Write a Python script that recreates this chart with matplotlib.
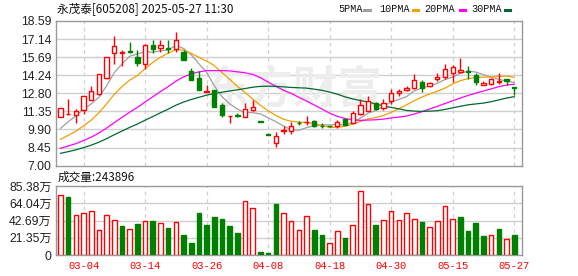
import matplotlib
matplotlib.use('Agg')
import matplotlib.pyplot as plt
from matplotlib.patches import Rectangle
import numpy as np

# ---------------- data ----------------
opens = [10.94, 11.15, 11.10, 11.48, 12.28, 12.72, 14.03, 16.03, 16.06, 16.20,
         15.70, 15.15, 16.70, 16.40, 16.42, 16.37, 16.08, 14.55, 14.05, 12.93,
         13.03, 11.85, 10.97, 11.03, 10.90, 11.45, 10.56, 9.50, 8.79, 9.80,
         9.74, 10.43, 10.48, 10.57, 10.20, 10.18, 10.14, 10.75, 10.46, 11.15,
         11.42, 12.00, 11.63, 12.16, 12.79, 13.08, 13.21, 13.71, 13.40, 13.98,
         14.13, 14.45, 14.50, 14.56, 14.24, 13.45, 13.58, 13.74, 13.98, 13.34]
highs = [11.62, 12.36, 11.51, 12.60, 13.40, 14.33, 15.74, 17.37, 16.25, 16.93,
         16.30, 16.72, 17.03, 17.06, 17.05, 17.68, 16.30, 14.86, 14.56, 13.50,
         13.08, 11.99, 11.00, 11.20, 12.02, 12.26, 10.58, 9.50, 9.72, 10.14,
         10.49, 10.62, 10.96, 10.70, 10.43, 10.19, 10.70, 10.78, 11.36, 12.35,
         12.56, 12.08, 12.35, 13.15, 13.13, 13.40, 14.32, 13.87, 13.71, 14.40,
         15.11, 15.06, 15.64, 14.98, 14.40, 13.79, 14.06, 14.40, 13.98, 13.34]
lows = [10.93, 11.08, 10.42, 11.12, 12.26, 12.70, 13.98, 15.12, 14.96, 16.05,
        14.96, 14.76, 16.06, 16.10, 16.00, 16.10, 15.43, 13.88, 13.06, 12.88,
        11.68, 10.92, 10.46, 10.88, 10.88, 11.42, 10.53, 9.48, 8.52, 9.55,
        9.55, 10.22, 10.22, 10.09, 10.03, 10.12, 10.03, 10.25, 10.41, 11.10,
        11.36, 11.47, 11.47, 11.95, 12.60, 13.00, 13.13, 12.87, 13.32, 13.79,
        13.98, 13.71, 14.45, 13.98, 13.45, 13.45, 13.50, 13.53, 13.50, 12.66]
closes = [11.61, 11.17, 11.38, 12.57, 13.01, 14.31, 15.74, 16.62, 16.08, 16.10,
          15.20, 16.70, 16.37, 16.70, 16.35, 17.10, 15.43, 13.88, 13.06, 12.96,
          11.68, 11.08, 10.99, 10.96, 11.54, 11.70, 10.53, 9.48, 9.38, 9.82,
          10.14, 10.40, 10.51, 10.17, 10.15, 10.16, 10.54, 10.27, 11.20, 11.90,
          12.16, 11.55, 12.06, 12.80, 13.00, 13.26, 13.87, 13.19, 13.63, 14.08,
          14.71, 14.90, 14.66, 14.52, 13.71, 13.66, 13.92, 13.78, 13.80, 13.19]
# volume in 万
volumes = [73.8, 71.8, 49.1, 51.6, 54.0, 30.9, 49.1, 42.9, 35.9, 31.8,
           38.4, 42.1, 42.1, 39.2, 33.4, 40.8, 24.8, 14.9, 52.4, 37.1,
           47.0, 44.6, 35.9, 27.2, 66.4, 57.8, 3.7, 2.5, 63.1, 52.0,
           42.1, 30.5, 47.9, 30.9, 24.8, 14.4, 29.3, 21.0, 36.7, 78.8,
           62.7, 37.1, 42.9, 54.0, 42.9, 51.6, 44.1, 40.8, 34.2, 41.7,
           60.2, 44.1, 47.0, 29.7, 39.6, 23.5, 24.3, 32.2, 19.4, 24.39]
# closes before the first visible day (estimated from where the MA lines start)
warmup_closes = [7.10, 7.05, 7.15, 7.20, 7.12, 7.25, 7.18, 7.22, 7.30, 7.33,
                 7.40, 7.55, 7.62, 7.70, 7.65, 7.78, 7.80, 7.72, 7.85, 7.63,
                 7.95, 8.10, 8.25, 8.40, 8.45, 8.55, 9.00, 9.90, 10.89]

date_tick_idx = [3, 11, 19, 27, 35, 43, 51, 59]
date_labels = ['03-04', '03-14', '03-26', '04-08', '04-18', '04-30', '05-15', '05-27']
price_ticks = [7.00, 8.45, 9.90, 11.35, 12.80, 14.24, 15.69, 17.14, 18.59]
vol_ticks = [0, 21.35, 42.69, 64.04, 85.38]
vol_tick_labels = ['0', '21.35万', '42.69万', '64.04万', '85.38万']
ma_periods = [5, 10, 20, 30]
ma_labels = ['5PMA', '10PMA', '20PMA', '30PMA']
ma_colors = ['#a0a0a0', '#f0a000', '#ff00ff', '#006a30']
title = '永茂泰[605208] 2025-05-27 11:30'
vol_title = '成交量:243896'

RED = '#ff0000'
GREEN = '#008000'
GRID = '#d0d0d0'
FRAME = '#9a9a9a'

W, H = 578, 276
fig = plt.figure(figsize=(W / 100, H / 100), dpi=100)
fig.patch.set_facecolor('white')

def frac_box(l, t, r, b):
    return [l / W, 1 - b / H, (r - l) / W, (b - t) / H]

axp = fig.add_axes(frac_box(55.7, 21.0, 522.3, 165.7))
axv = fig.add_axes(frac_box(55.7, 186.0, 522.3, 255.0))

n = len(closes)
x = np.arange(n)
xlim = (-0.62, n - 1 + 1.05)

for ax in (axp, axv):
    ax.set_xlim(*xlim)
    for s in ax.spines.values():
        s.set_color(FRAME)
        s.set_linewidth(1.0)
    ax.tick_params(length=0, pad=3)
    ax.set_xticks(date_tick_idx)
    for xi in date_tick_idx:
        ax.axvline(xi, color=GRID, lw=0.9, ls=(0, (3, 3)), zorder=0)
    ax.set_facecolor('white')

# ---------- price panel ----------
axp.set_ylim(price_ticks[0], price_ticks[-1])
axp.set_yticks(price_ticks)
axp.set_yticklabels(['%.2f' % v for v in price_ticks], family='Liberation Sans',
                    fontsize=8.7, color='#222222')
axp.set_xticklabels([])
for v in price_ticks[1:-1]:
    axp.axhline(v, color=GRID, lw=1.0, zorder=0)

# watermark
axp.text(0.51, 0.52, '东方财富', transform=axp.transAxes, ha='center', va='center',
         fontsize=32, color='#ededed', family='Noto Sans CJK SC', fontweight='bold',
         zorder=0.5)

# moving averages
allc = np.array(warmup_closes + closes)
off = len(warmup_closes)
for p, col in zip(ma_periods, ma_colors):
    ma = [allc[off + i - p + 1: off + i + 1].mean() for i in range(n)]
    axp.plot(x, ma, color=col, lw=0.9, zorder=2)

bw = 0.56
for i in range(n):
    o, h, l, c = opens[i], highs[i], lows[i], closes[i]
    up = c >= o
    col = RED if up else GREEN
    axp.vlines(i, l, h, color=col, lw=1.0, zorder=3)
    bot = min(o, c)
    ht = max(abs(c - o), 0.02)
    axp.add_patch(Rectangle((i - bw / 2, bot), bw, ht,
                            facecolor='white' if up else GREEN,
                            edgecolor=col, lw=1.0, zorder=4))

# title + legend
fig.text(57 / W, 1 - 9 / H, title, family=['Noto Sans CJK SC', 'DejaVu Sans'],
         fontsize=8.4, va='center', ha='left', color='#111111')
leg_x = [338, 379.7, 424.7, 471.3]
for lx, lab in zip(leg_x, ma_labels):
    fig.text(lx / W, 1 - 9.5 / H, lab, family='Liberation Mono', fontsize=7.3,
             va='center', ha='left', color='#111111')
dash_x = [364.5, 413.0, 459.5, 505.0]
for dx, col in zip(dash_x, ma_colors):
    fig.add_artist(plt.Line2D([dx / W, (dx + 5) / W], [1 - 9.5 / H, 1 - 9.5 / H],
                              color=col, lw=2.2, transform=fig.transFigure))

# ---------- volume panel ----------
axv.set_ylim(vol_ticks[0], vol_ticks[-1])
axv.set_yticks(vol_ticks)
axv.set_yticklabels(vol_tick_labels, family=['Liberation Sans', 'Noto Sans CJK SC'],
                    fontsize=8.7, color='#222222')
for v in vol_ticks[1:-1]:
    axv.axhline(v, color=GRID, lw=1.0, zorder=0)
axv.set_xticklabels(date_labels, family='Liberation Mono', fontsize=7.6, color=RED)
axv.tick_params(axis='x', pad=4)

vw = 0.6
prev = None
for i in range(n):
    up = True if prev is None else closes[i] >= prev
    prev = closes[i]
    col = RED if up else GREEN
    axv.add_patch(Rectangle((i - vw / 2, 0), vw, volumes[i],
                            facecolor='white' if up else GREEN,
                            edgecolor=col, lw=1.0, zorder=3))

fig.text(58 / W, 1 - 177 / H, vol_title, family=['Noto Sans CJK SC', 'DejaVu Sans'],
         fontsize=8.4, va='center', ha='left', color='#111111')

fig.savefig('out.png', dpi=100, facecolor='white')
